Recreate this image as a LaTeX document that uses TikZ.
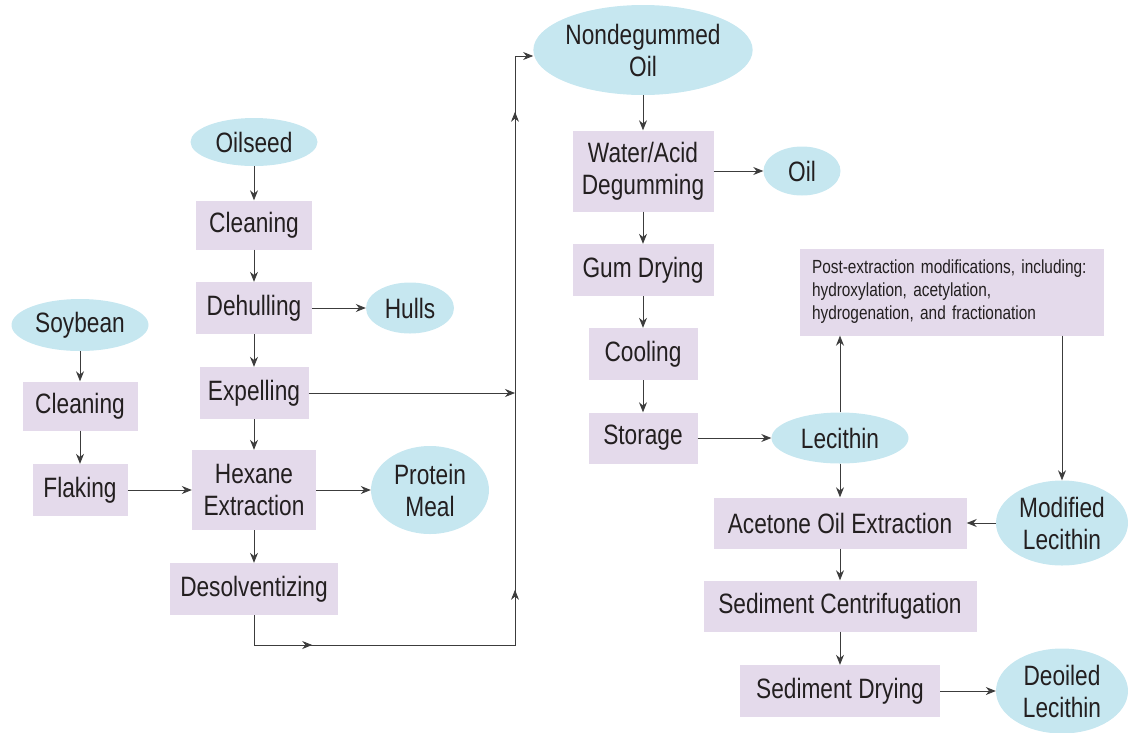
\documentclass[tikz,border=0pt]{standalone}
\usepackage{fontspec}
\setmainfont[FakeStretch=0.81]{Liberation Sans}
\usetikzlibrary{arrows.meta,decorations.markings,shapes.geometric}
\definecolor{boxfill}{HTML}{E4DAEB}
\definecolor{ovalfill}{HTML}{C6E7F0}
\definecolor{linegray}{HTML}{3C3C3C}
\definecolor{textgray}{HTML}{231F20}
\tikzset{
	sz/.style 2 args={minimum width=#1pt, minimum height=#2pt},
	process/.style={fill=boxfill, text=textgray, inner sep=0pt, align=center,
			font=\fontsize{28}{32}\selectfont},
	product/.style={ellipse, fill=ovalfill, text=textgray, inner sep=0pt, align=center,
			font=\fontsize{28}{32}\selectfont},
	conn/.style={draw=linegray, line width=0.8pt},
	arr/.style={conn, -{Stealth[length=10pt,width=8pt]}}
}

\begin{document}
\begin{tikzpicture}[x=1pt, y=-1pt]
	\useasboundingbox (0,0) rectangle (1128,732);

	% soybean branch
	\node[product, sz={137}{52}]	(soy)		at (80,325)	{Soybean};
	\node[process, sz={115}{49}]	(clean1)	at (80,406)	{Cleaning};
	\node[process, sz={95}{52}]	(flake)		at (80,490)	{Flaking};

	% oilseed branch
	\node[product, sz={127}{48}]	(oilseed)	at (254,142)	{Oilseed};
	\node[process, sz={116}{49}]	(clean2)	at (254,225)	{Cleaning};
	\node[process, sz={116}{52}]	(dehull)	at (254,308)	{Dehulling};
	\node[product, sz={88}{51}]	(hulls)		at (410,308)	{Hulls};
	\node[process, sz={109}{52}]	(expel)		at (254,393)	{Expelling};
	\node[process, sz={124}{80}]	(hexane)	at (254,490)	{Hexane\\Extraction};
	\node[product, sz={118}{88}]	(meal)		at (430,490)	{Protein\\Meal};
	\node[process, sz={168}{52}]	(desolv)	at (254,589)	{Desolventizing};

	% degumming
	\node[product, sz={186}{90}]	(nondeg)	at (643,50)	{Nondegummed\\Oil};
	\node[process, sz={141}{81}]	(degum)		at (643,171)	{Water/Acid\\Degumming};
	\node[product, sz={77}{49}]	(oil)		at (802,171)	{Oil};
	\node[process, sz={141}{52}]	(gumdry)	at (643,270)	{Gum Drying};
	\node[process, sz={109}{52}]	(cool)		at (643,354)	{Cooling};
	\node[process, sz={109}{51}]	(store)		at (643,438)	{Storage};

	% lecithin
	\node[product, sz={137}{51}]	(lec)		at (840,438)	{Lecithin};
	\node[process, sz={304}{87}, align=left, inner xsep=12pt, text width=280pt,
		font=\fontsize{19}{23}\selectfont]	(post)	at (952,292)
		{Post-extraction modifications, including:\\hydroxylation, acetylation,\\hydrogenation, and fractionation};
	\node[product, sz={132}{85}]	(modlec)	at (1062,523)	{Modified\\Lecithin};
	\node[process, sz={253}{51}]	(acet)		at (840,523)	{Acetone Oil Extraction};
	\node[process, sz={273}{51}]	(centr)		at (840,606)	{Sediment Centrifugation};
	\node[process, sz={200}{52}]	(seddry)	at (840,691)	{Sediment Drying};
	\node[product, sz={132}{85}]	(deoil)		at (1062,691)	{Deoiled\\Lecithin};

	\coordinate (join)	at (515,645);
	\coordinate (top)	at (515,56);

	\draw[arr]	(soy) -- (clean1);
	\draw[arr]	(clean1) -- (flake);
	\draw[arr]	(flake) -- (hexane);

	\draw[arr]	(oilseed) -- (clean2);
	\draw[arr]	(clean2) -- (dehull);
	\draw[arr]	(dehull) -- (hulls);
	\draw[arr]	(dehull) -- (expel);
	\draw[arr]	(expel) -- (hexane);
	\draw[arr]	(hexane) -- (meal);
	\draw[arr]	(hexane) -- (desolv);
	\draw[arr]	(expel.east) -- (expel.east -| join);

	\draw[arr, postaction=decorate, decoration={markings,
			mark=at position 88pt with {\arrow{Stealth[length=10pt,width=8pt]}},
			mark=at position 346pt with {\arrow{Stealth[length=10pt,width=8pt]}},
			mark=at position 824pt with {\arrow{Stealth[length=10pt,width=8pt]}}}]
		(desolv.south) |- (join) -- (top) -- (top -| nondeg.west);

	\draw[arr]	(nondeg) -- (degum);
	\draw[arr]	(degum) -- (oil);
	\draw[arr]	(degum) -- (gumdry);
	\draw[arr]	(gumdry) -- (cool);
	\draw[arr]	(cool) -- (store);
	\draw[arr]	(store) -- (lec);

	\draw[arr]	(lec.north) -- (lec.north |- post.south);
	\draw[arr]	(modlec.north |- post.south) -- (modlec.north);
	\draw[arr]	(modlec) -- (acet);
	\draw[arr]	(lec) -- (acet);
	\draw[arr]	(acet) -- (centr);
	\draw[arr]	(centr) -- (seddry);
	\draw[arr]	(seddry) -- (deoil);
\end{tikzpicture}
\end{document}
